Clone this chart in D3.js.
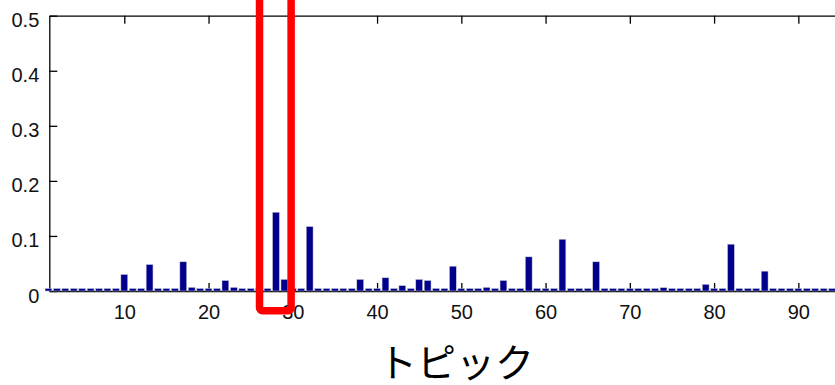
<!DOCTYPE html>
<html>
<head>
<meta charset="utf-8">
<script src="https://cdn.jsdelivr.net/npm/d3@7"></script>
<style>
  body { margin: 0; background: #fff; }
  svg { display: block; }
</style>
</head>
<body>
<div id="chart"></div>
<script>
// topic numbers 1..94 and their weights
var topics = [
   1,  2,  3,  4,  5,  6,  7,  8,  9, 10,
  11, 12, 13, 14, 15, 16, 17, 18, 19, 20,
  21, 22, 23, 24, 25, 26, 27, 28, 29, 30,
  31, 32, 33, 34, 35, 36, 37, 38, 39, 40,
  41, 42, 43, 44, 45, 46, 47, 48, 49, 50,
  51, 52, 53, 54, 55, 56, 57, 58, 59, 60,
  61, 62, 63, 64, 65, 66, 67, 68, 69, 70,
  71, 72, 73, 74, 75, 76, 77, 78, 79, 80,
  81, 82, 83, 84, 85, 86, 87, 88, 89, 90,
  91, 92, 93, 94
];
var weights = [
  0.0045, 0.0045, 0.0045, 0.0045, 0.0045, 0.0045, 0.0045, 0.0045, 0.0045, 0.030,
  0.0045, 0.0045, 0.048, 0.0045, 0.0045, 0.0045, 0.053, 0.0065, 0.0045, 0.0045,
  0.0045, 0.019, 0.0065, 0.0045, 0.0045, 0.0045, 0.0045, 0.143, 0.021, 0.0045,
  0.0045, 0.117, 0.0045, 0.0045, 0.0045, 0.0045, 0.0045, 0.021, 0.0045, 0.0045,
  0.024, 0.0045, 0.0097, 0.0045, 0.021, 0.019, 0.0045, 0.0045, 0.045, 0.0045,
  0.0045, 0.0045, 0.0065, 0.0045, 0.019, 0.0045, 0.0045, 0.062, 0.0045, 0.0045,
  0.0045, 0.094, 0.0045, 0.0045, 0.0045, 0.053, 0.0045, 0.0045, 0.0045, 0.0045,
  0.0045, 0.0045, 0.0045, 0.006, 0.0045, 0.0045, 0.0045, 0.0045, 0.012, 0.0045,
  0.0045, 0.085, 0.0045, 0.0045, 0.0045, 0.036, 0.0045, 0.0045, 0.0045, 0.0045,
  0.0045, 0.0045, 0.0045, 0.0045
];
var xTicks = [10, 20, 30, 40, 50, 60, 70, 80, 90];
var yTicks = [0, 0.1, 0.2, 0.3, 0.4, 0.5];
var highlight = [26.05, 29.8]; // red box around topic 28-29
var xTitle = "トピック";

var width = 835, height = 385;

var svg = d3.select("#chart")
  .append("svg")
  .attr("width", width)
  .attr("height", height);

var x = d3.scaleLinear().domain([1.1, 94.35]).range([49.3, 835]);
var y = d3.scaleLinear().domain([0, 0.5]).range([291, 15.7]);
var barW = 6.8;

function styleAxis(g) {
  g.selectAll("path, line").attr("stroke", "#000").attr("stroke-width", 1.3);
  g.selectAll("text")
    .attr("fill", "#111")
    .style("font-family", "'Liberation Sans', Arial, sans-serif")
    .style("font-size", "20px");
}

// top border
svg.append("g")
  .attr("transform", "translate(0," + y(0.5) + ")")
  .call(d3.axisTop(x).tickValues(xTicks).tickSize(-8).tickSizeOuter(0).tickFormat(""))
  .call(styleAxis);

// bottom axis
svg.append("g")
  .attr("transform", "translate(0," + y(0) + ")")
  .call(d3.axisBottom(x).tickValues(xTicks).tickSize(-8).tickSizeOuter(0).tickPadding(14))
  .call(styleAxis);

// left axis
var yAxis = svg.append("g")
  .attr("transform", "translate(" + x(1.1) + ",0)")
  .call(d3.axisLeft(y).tickValues(yTicks).tickSize(-8).tickSizeOuter(0).tickPadding(10)
    .tickFormat(function(d) { return d === 0 ? "0" : d3.format(".1f")(d); }))
  .call(styleAxis);
yAxis.selectAll("text").attr("dy", "0.55em");

// bars
svg.append("g")
  .selectAll("rect")
  .data(topics)
  .enter()
  .append("rect")
  .attr("x", function(d) { return x(d) - barW / 2; })
  .attr("y", function(d, i) { return y(weights[i]); })
  .attr("width", barW)
  .attr("height", function(d, i) { return y(0) - y(weights[i]); })
  .attr("fill", "#00008c")
  .attr("stroke", "#c9c9d4")
  .attr("stroke-width", 0.5);

// highlight box
svg.append("rect")
  .attr("x", x(highlight[0]))
  .attr("y", -30)
  .attr("width", x(highlight[1]) - x(highlight[0]))
  .attr("height", y(-0.036) + 30)
  .attr("rx", 3)
  .attr("fill", "none")
  .attr("stroke", "#ff0000")
  .attr("stroke-width", 7.5);

// axis title
svg.append("text")
  .attr("x", 456)
  .attr("y", 377)
  .attr("text-anchor", "middle")
  .style("font-family", "'Noto Sans CJK JP', sans-serif")
  .style("font-size", "39px")
  .attr("fill", "#000")
  .text(xTitle);
</script>
</body>
</html>
